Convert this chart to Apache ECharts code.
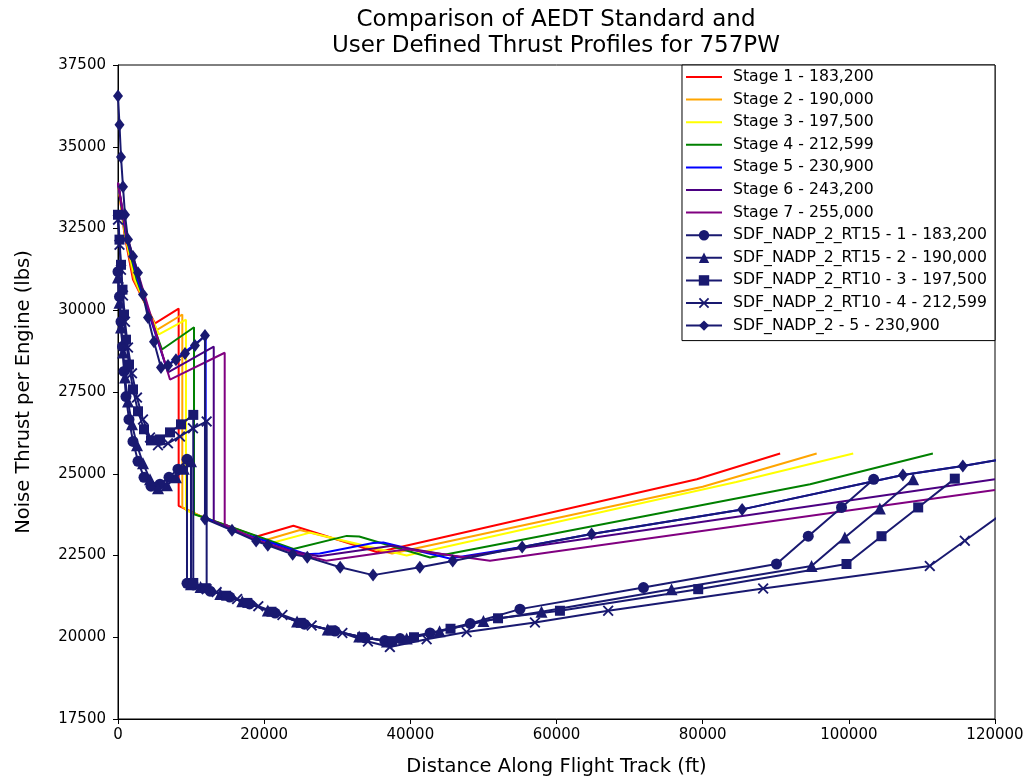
<!DOCTYPE html>
<html>
<head>
<meta charset="utf-8">
<script src="https://cdn.jsdelivr.net/npm/echarts@6/dist/echarts.min.js"></script>
<style>
html,body{margin:0;padding:0;background:#fff;}
#chart{width:1036px;height:782px;}
</style>
</head>
<body>
<div id="chart"></div>
<script>
const titleText = 'Comparison of AEDT Standard and\nUser Defined Thrust Profiles for 757PW';
const xAxisName = 'Distance Along Flight Track (ft)';
const yAxisName = 'Noise Thrust per Engine (lbs)';
const xTicks = [0, 20000, 40000, 60000, 80000, 100000, 120000];
const yTicks = [17500, 20000, 22500, 25000, 27500, 30000, 32500, 35000, 37500];

const seriesNames = [
  'Stage 1 - 183,200', 'Stage 2 - 190,000', 'Stage 3 - 197,500', 'Stage 4 - 212,599',
  'Stage 5 - 230,900', 'Stage 6 - 243,200', 'Stage 7 - 255,000',
  'SDF_NADP_2_RT15 - 1 - 183,200', 'SDF_NADP_2_RT15 - 2 - 190,000',
  'SDF_NADP_2_RT10 - 3 - 197,500', 'SDF_NADP_2_RT10 - 4 - 212,599',
  'SDF_NADP_2 - 5 - 230,900'
];

const stage1 = [[0,33900],[900,32300],[2050,30940],[5060,29600],[8300,30050],[8300,24020],[11200,23710],[19000,23080],[24000,23410],[35500,22600],[79200,24830],[90600,25620]];
const stage2 = [[0,33900],[950,32300],[2200,30940],[5330,29400],[8800,29870],[8800,23980],[11300,23700],[20000,22960],[24900,23280],[37500,22560],[80000,24600],[95600,25620]];
const stage3 = [[0,33900],[1000,32300],[2350,30940],[5600,29260],[9300,29710],[9300,23880],[11400,23690],[21000,22880],[26300,23200],[39500,22500],[84600,24750],[100600,25620]];
const stage4 = [[0,33900],[1050,32300],[2550,30940],[6020,28800],[10400,29480],[10400,23760],[11800,23660],[24000,22700],[31300,23100],[33000,23080],[42700,22440],[94700,24680],[111500,25620]];
const stage5 = [[0,33900],[1100,32300],[2700,30940],[6570,28280],[12000,29220],[12000,23650],[15600,23280],[25800,22540],[27600,22560],[34900,22880],[36300,22900],[45400,22410],[55300,22760],[64800,23160],[85400,23910],[107400,24960],[115600,25240],[122000,25480]];
const stage6 = [[0,33900],[1150,32300],[2850,30940],[6840,28100],[13100,28890],[13100,23550],[15600,23290],[19000,22960],[24000,22620],[27500,22480],[37500,22800],[47000,22450],[59100,22850],[120000,24830]];
const stage7 = [[0,33900],[1200,32300],[3000,30940],[7110,27880],[14600,28700],[14600,23460],[15600,23340],[19500,22930],[24500,22560],[28500,22340],[39500,22690],[50900,22340],[59100,22600],[120000,24500]];

const sdf1 = [[0,31180],[205,30420],[410,29650],[616,28890],[821,28130],[1094,27360],[1505,26660],[2052,25990],[2736,25380],[3557,24890],[4515,24620],[5746,24680],[6977,24890],[8208,25140],[9440,25440],[9440,21650],[10300,21600],[12600,21410],[15300,21230],[18000,21020],[21500,20740],[25500,20400],[29700,20190],[33800,19980],[36500,19900],[38600,19960],[42700,20130],[48200,20420],[55000,20860],[71900,21520],[90100,22240],[94450,23090],[99000,23970],[103400,24830]];
const sdf2 = [[0,31000],[205,30230],[410,29470],[684,28710],[958,27940],[1368,27210],[1915,26510],[2599,25870],[3420,25320],[4378,24830],[5472,24560],[6700,24650],[7930,24890],[9000,25150],[9990,25380],[9990,21620],[11300,21540],[14000,21320],[17000,21100],[20500,20820],[24500,20480],[28700,20240],[33000,20020],[36800,19870],[39500,19960],[44000,20180],[50000,20500],[57950,20780],[75740,21470],[94900,22180],[99450,23050],[104240,23940],[108800,24830]];
const sdf3 = [[0,32920],[205,32160],[410,31390],[616,30630],[821,29870],[1094,29100],[1505,28340],[2052,27580],[2736,26910],[3557,26360],[4515,26020],[5746,26050],[7114,26265],[8618,26510],[10300,26800],[10300,21660],[12000,21500],[14800,21270],[17700,21050],[21000,20780],[25000,20440],[29200,20210],[33400,20000],[37500,19880],[40500,20000],[45500,20260],[52000,20580],[60470,20810],[79390,21470],[99680,22240],[104470,23090],[109490,23970],[114500,24850]];
const sdf4 = [[0,32770],[205,32000],[410,31240],[684,30450],[958,29650],[1368,28860],[1915,28070],[2599,27330],[3420,26660],[4378,26110],[5472,25870],[6840,25930],[8480,26140],[10260,26390],[12130,26600],[12130,21470],[13500,21380],[16300,21170],[19200,20950],[22500,20680],[26500,20360],[30700,20130],[34200,19870],[37200,19700],[42230,19940],[47700,20160],[57050,20450],[67070,20810],[88280,21490],[111080,22180],[115870,22950],[120700,23730]];
const sdf5 = [[0,36550],[205,35670],[410,34690],[684,33775],[958,32920],[1368,32160],[2050,31640],[2736,31150],[3420,30480],[4100,29780],[4925,29040],[5880,28250],[6840,28310],[7930,28490],[9170,28680],[10530,28920],[11900,29230],[11900,23620],[15600,23270],[18900,22940],[20500,22815],[23900,22540],[25900,22450],[30400,22140],[34900,21900],[41300,22140],[45800,22330],[55300,22760],[64800,23160],[85400,23910],[107400,24960],[115600,25240],[122000,25480]];

const stageData = [stage1, stage2, stage3, stage4, stage5, stage6, stage7];
const sdfData = [sdf1, sdf2, sdf3, sdf4, sdf5];
const stageColors = ['#ff0000', '#ffa500', '#ffff00', '#008000', '#0000ff', '#4b0082', '#800080'];
const sdfColor = '#191970';
const xPath = 'path://M0,1.2 L1.2,0 L5,3.8 L8.8,0 L10,1.2 L6.2,5 L10,8.8 L8.8,10 L5,6.2 L1.2,10 L0,8.8 L3.8,5 Z';
const sdfSymbols = ['circle', 'triangle', 'rect', xPath, 'diamond'];
const sdfSizes = [11, 12, 10, 11, [10, 13]];

const FONT = 'DejaVu Sans';
const series = [];
stageData.forEach((d, i) => {
  series.push({
    name: seriesNames[i], type: 'line', data: d, symbol: 'none',
    lineStyle: {color: stageColors[i], width: 2}, itemStyle: {color: stageColors[i]},
    clip: true, z: 2
  });
});
sdfData.forEach((d, i) => {
  series.push({
    name: seriesNames[7 + i], type: 'line', data: d,
    symbol: sdfSymbols[i], symbolSize: sdfSizes[i], showSymbol: true, showAllSymbol: true,
    lineStyle: {color: sdfColor, width: 2}, itemStyle: {color: sdfColor, borderColor: sdfColor, borderWidth: 0},
    clip: true, z: 3
  });
});

const legendData = seriesNames.map((n, i) => i < 7 ? {name: n, itemStyle: {opacity: 0}} : {name: n});

const chart = echarts.init(document.getElementById('chart'), null, {renderer: 'canvas'});
chart.setOption({
  animation: false,
  backgroundColor: '#fff',
  title: {
    text: titleText, left: 556, top: 7, textAlign: 'center', padding: 0,
    textStyle: {fontFamily: FONT, fontSize: 23, fontWeight: 'normal', color: '#000', lineHeight: 26}
  },
  grid: {left: 118, right: 41, top: 65, bottom: 62, show: true, borderColor: '#000', borderWidth: 1, backgroundColor: '#fff'},
  legend: {
    orient: 'vertical', right: 41, top: 65, backgroundColor: '#fff', borderColor: '#000', borderWidth: 1,
    borderRadius: 0, padding: [4, 8, 7, 3], itemWidth: 36, itemHeight: 13, itemGap: 6.6,
    textStyle: {fontFamily: FONT, fontSize: 15.7, color: '#000', padding: [0, 0, 0, 6]},
    data: legendData
  },
  xAxis: {
    type: 'value', min: xTicks[0], max: xTicks[xTicks.length - 1], interval: 20000,
    name: xAxisName, nameLocation: 'middle', nameGap: 38,
    nameTextStyle: {fontFamily: FONT, fontSize: 19.5, color: '#000'},
    axisLine: {show: true, lineStyle: {color: '#000', width: 1}},
    axisTick: {show: true, length: 5, lineStyle: {color: '#000'}},
    axisLabel: {fontFamily: FONT, fontSize: 15, color: '#000', margin: 9, formatter: v => String(v)},
    splitLine: {show: false}
  },
  yAxis: {
    type: 'value', min: yTicks[0], max: yTicks[yTicks.length - 1], interval: 2500,
    name: yAxisName, nameLocation: 'middle', nameGap: 84,
    nameTextStyle: {fontFamily: FONT, fontSize: 19.5, color: '#000'},
    axisLine: {show: true, lineStyle: {color: '#000', width: 1}},
    axisTick: {show: true, length: 5, lineStyle: {color: '#000'}},
    axisLabel: {fontFamily: FONT, fontSize: 15, color: '#000', margin: 12, formatter: v => String(v)},
    splitLine: {show: false}
  },
  series: series
});
</script>
</body>
</html>
